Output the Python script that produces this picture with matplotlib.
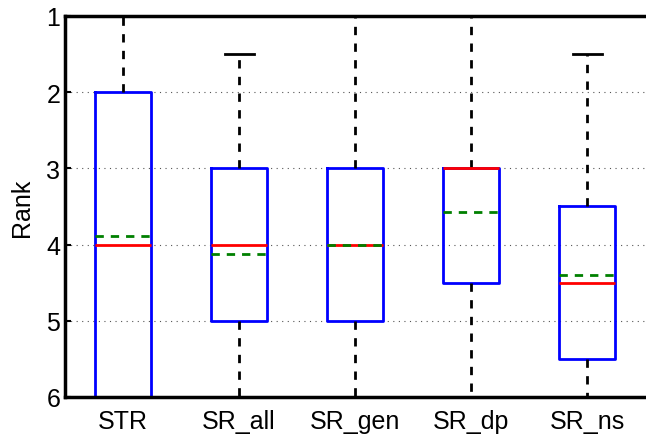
import matplotlib.pyplot as plt
import numpy as np

plt.rcParams['font.family'] = ['Liberation Sans', 'DejaVu Sans']

methods = ["STR", "SR_all", "SR_gen", "SR_dp", "SR_ns"]
whisker_low = [1, 1.5, 1, 1, 1.5]
q1 = [2, 3, 3, 3, 3.5]
medians = [4, 4, 4, 3, 4.5]
q3 = [6, 5, 5, 4.5, 5.5]
whisker_high = [6, 6, 6, 6, 6]
means = [3.89, 4.12, 4.0, 3.57, 4.40]

stats = []
for i, m in enumerate(methods):
    stats.append(dict(label=m, whislo=whisker_low[i], q1=q1[i], med=medians[i],
                      q3=q3[i], whishi=whisker_high[i], mean=means[i], fliers=[]))

fig = plt.figure(figsize=(6.46, 4.35), dpi=100)
ax = fig.add_axes([65 / 646, 1 - 398 / 435, 585 / 646, 381 / 435])

ax.bxp(stats, widths=0.49, showmeans=True, meanline=True, showfliers=False,
       boxprops=dict(color="blue", linewidth=2),
       medianprops=dict(color="red", linewidth=2),
       meanprops=dict(color="green", linewidth=2, linestyle=(0, (3, 2.5))),
       whiskerprops=dict(color="black", linewidth=2, linestyle=(0, (3, 3))),
       capprops=dict(color="black", linewidth=2), capwidths=0.25)

ax.set_xlim(0.5, 0.5 + 585 / 116)
ax.set_ylim(6, 1)
ax.set_yticks([1, 2, 3, 4, 5, 6])
ax.yaxis.grid(True, linestyle=(0, (1, 4)), color="#555555", linewidth=0.8)
ax.set_axisbelow(True)
ax.tick_params(axis="both", labelsize=18, length=4, direction="in", width=1.5)
ax.tick_params(axis="x", length=0, pad=9)
ax.set_ylabel("Rank", fontsize=18, labelpad=9)
for s in ["left", "bottom", "top"]:
    ax.spines[s].set_linewidth(2.5)
ax.spines["right"].set_visible(False)

fig.savefig("out.png", dpi=100)
